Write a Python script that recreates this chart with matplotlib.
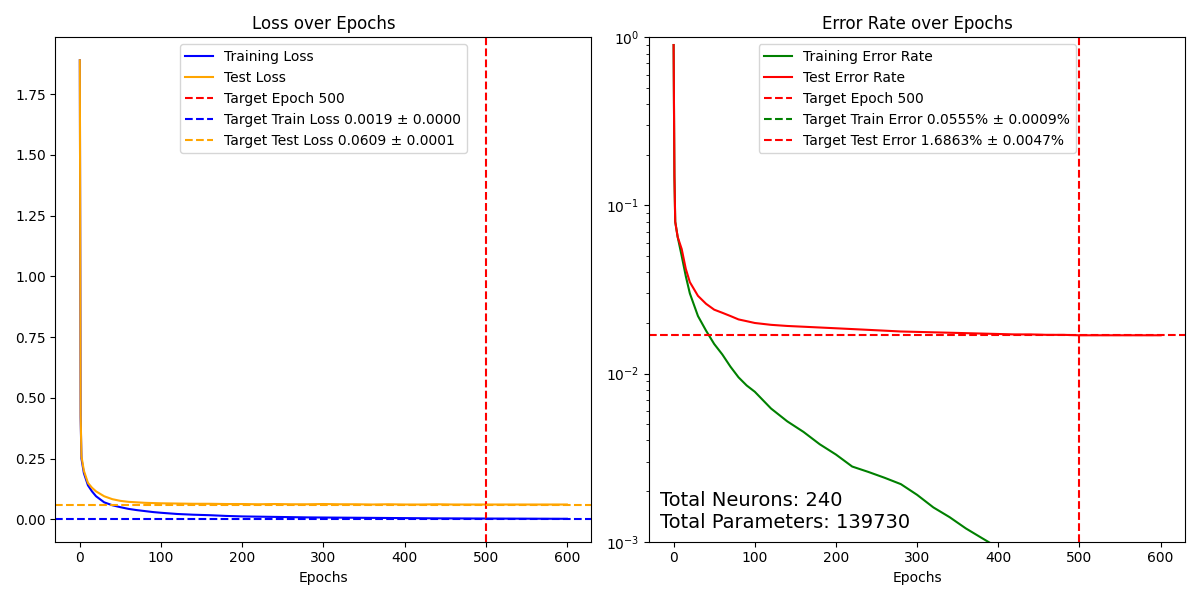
import matplotlib
matplotlib.use("Agg")
import matplotlib.pyplot as plt

epochs = [0, 1, 2, 5, 10, 15, 20, 30, 40, 50, 60, 70, 80, 90, 100, 120, 140, 160, 180, 200,
          220, 240, 260, 280, 300, 320, 340, 360, 380, 400, 420, 440, 460, 480, 500,
          520, 540, 560, 580, 600]
train_loss = [1.89, 0.42, 0.25, 0.19, 0.14, 0.115, 0.095, 0.07, 0.058, 0.05, 0.043, 0.038, 0.034,
              0.03, 0.027, 0.022, 0.019, 0.017, 0.014, 0.012, 0.011, 0.010, 0.009, 0.008, 0.0075,
              0.007, 0.0065, 0.006, 0.0055, 0.005, 0.0045, 0.004, 0.0038, 0.0035, 0.0032,
              0.003, 0.0028, 0.0026, 0.0024, 0.0022]
test_loss = [1.89, 0.43, 0.26, 0.2, 0.15, 0.13, 0.115, 0.095, 0.083, 0.076, 0.072, 0.07, 0.068,
             0.067, 0.066, 0.065, 0.064, 0.064, 0.063, 0.063, 0.062, 0.063, 0.062, 0.062, 0.063,
             0.062, 0.062, 0.061, 0.062, 0.061, 0.061, 0.062, 0.061, 0.061, 0.061,
             0.061, 0.061, 0.061, 0.061, 0.061]
train_err = [0.9, 0.15, 0.08, 0.065, 0.05, 0.038, 0.03, 0.022, 0.018, 0.015, 0.013, 0.011, 0.0095,
             0.0085, 0.0078, 0.0062, 0.0052, 0.0045, 0.0038, 0.0033, 0.0028, 0.0026, 0.0024,
             0.0022, 0.0019, 0.0016, 0.0014, 0.0012, 0.00105, 0.00092, 0.0008, 0.0007, 0.00062,
             0.00056, 0.0005, 0.00045, 0.0004, 0.00036, 0.00033, 0.0003]
test_err = [0.9, 0.15, 0.08, 0.065, 0.055, 0.042, 0.035, 0.029, 0.026, 0.024, 0.023, 0.022, 0.021,
            0.0205, 0.02, 0.0195, 0.0192, 0.019, 0.0188, 0.0186, 0.0184, 0.0182, 0.018, 0.0178,
            0.0177, 0.0176, 0.0175, 0.0174, 0.0173, 0.0172, 0.0171, 0.0171, 0.017, 0.017, 0.0169,
            0.0169, 0.0169, 0.0169, 0.0169, 0.0169]

target_epoch = 500
target_train_loss, target_test_loss = 0.0019, 0.0609
target_train_err, target_test_err = 0.0555, 1.6863

fig, (ax1, ax2) = plt.subplots(1, 2, figsize=(12, 6))

ax1.plot(epochs, train_loss, color='blue', label='Training Loss')
ax1.plot(epochs, test_loss, color='orange', label='Test Loss')
ax1.axvline(target_epoch, color='red', linestyle='--', label=f'Target Epoch {target_epoch}')
ax1.axhline(target_train_loss, color='blue', linestyle='--',
            label=f'Target Train Loss {target_train_loss:.4f} ± 0.0000')
ax1.axhline(target_test_loss, color='orange', linestyle='--',
            label=f'Target Test Loss {target_test_loss:.4f} ± 0.0001')
ax1.set_title('Loss over Epochs')
ax1.set_xlabel('Epochs')
ax1.legend(loc='upper center')

ax2.plot(epochs, train_err, color='green', label='Training Error Rate')
ax2.plot(epochs, test_err, color='red', label='Test Error Rate')
ax2.axvline(target_epoch, color='red', linestyle='--', label=f'Target Epoch {target_epoch}')
ax2.axhline(target_train_err / 100, color='green', linestyle='--',
            label=f'Target Train Error {target_train_err:.4f}% ± 0.0009%')
ax2.axhline(target_test_err / 100, color='red', linestyle='--',
            label=f'Target Test Error {target_test_err:.4f}% ± 0.0047%')
ax2.set_yscale('log')
ax2.set_ylim(1e-3, 1)
ax2.set_title('Error Rate over Epochs')
ax2.set_xlabel('Epochs')
ax2.legend(loc='upper center')
ax2.text(0.02, 0.02, 'Total Neurons: 240\nTotal Parameters: 139730', transform=ax2.transAxes,
         fontsize=14, va='bottom')

plt.tight_layout()
plt.savefig('out.png', dpi=100)
